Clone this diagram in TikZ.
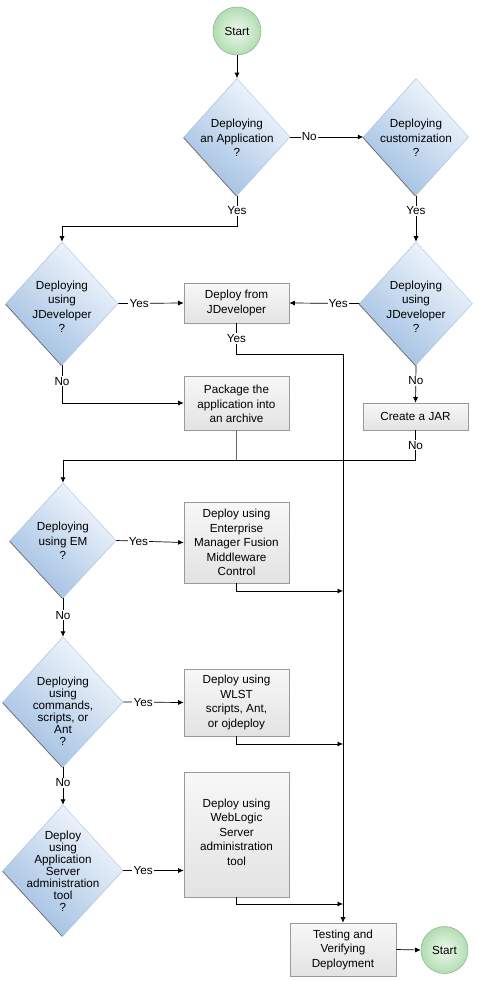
\documentclass[tikz,border=0pt]{standalone}
\usepackage{fontspec}
\setmainfont{Liberation Sans}
\usetikzlibrary{shapes.geometric,shadows,arrows.meta}
\definecolor{dblue}{HTML}{A0BFE2}
\definecolor{dlight}{HTML}{F4F8FD}
\definecolor{dedge}{HTML}{B4CBE8}
\definecolor{bedge}{HTML}{9A9A9A}
\definecolor{gfill}{HTML}{B2DDB2}
\definecolor{glight}{HTML}{EEF8EE}
\definecolor{gedge}{HTML}{8FB88F}
\tikzset{
  txt/.style={font=\fontsize{11.7}{14.5}\selectfont, align=center, inner sep=0pt},
  tighttxt/.style={font=\fontsize{11.7}{12}\selectfont, align=center, inner sep=0pt},
  decision/.style={diamond, draw=dedge, line width=0.5pt, inner sep=0pt,
    top color=dlight, bottom color=dblue, shading angle=-40,
    drop shadow={shadow xshift=-0.9pt, shadow yshift=-0.9pt, fill=black!70, opacity=0.8}},
  stepbox/.style={rectangle, draw=bedge, line width=0.6pt, inner sep=0pt,
    top color=white!97!black, bottom color=white!89!black,
    drop shadow={shadow xshift=0.6pt, shadow yshift=-0.8pt, fill=black!55, opacity=0.8}},
  term/.style={circle, draw=gedge, line width=0.6pt, minimum size=48pt, inner sep=0pt,
    inner color=glight, outer color=gfill},
  conn/.style={draw=black, line width=0.7pt},
  arr/.style={conn, -{Latex[length=5.5pt,width=5pt]}},
  lab/.style={fill=white, inner sep=1.2pt, font=\fontsize{11.7}{14}\selectfont},
}
\begin{document}
\begin{tikzpicture}[x=1pt,y=-1pt]
\useasboundingbox (0,0) rectangle (477,981);
% terminals
\node[term] (start) at (237,31) {};
\node[txt] at (start) {Start};
\node[term, minimum size=47pt] (end) at (444.5,950) {};
\node[txt] at (end) {Start};
% decisions
\node[decision, minimum width=106pt, minimum height=117pt] (d1) at (237,137) {};
\node[txt] at (237,138) {Deploying\\an Application\\?};
\node[decision, minimum width=105pt, minimum height=117pt] (d2) at (416,137) {};
\node[txt] at (416,138) {Deploying\\customization\\?};
\node[decision, minimum width=112pt, minimum height=123pt] (d3) at (62,303.5) {};
\node[txt] at (62,307) {Deploying\\using\\JDeveloper\\?};
\node[decision, minimum width=113pt, minimum height=123pt] (d4) at (416,303.5) {};
\node[txt] at (416,307) {Deploying\\using\\JDeveloper\\?};
\node[decision, minimum width=106pt, minimum height=115pt] (d5) at (63,540.5) {};
\node[txt] at (63,541) {Deploying\\using EM\\?};
\node[decision, minimum width=120pt, minimum height=130pt] (d6) at (63,702) {};
\node[tighttxt] at (63,711) {Deploying\\using\\commands,\\scripts, or\\Ant\\?};
\node[decision, minimum width=120pt, minimum height=131pt] (d7) at (63,870.5) {};
\node[tighttxt] at (63,871) {Deploy\\using\\Application\\Server\\administration\\tool\\?};
% boxes
\node[stepbox, minimum width=105pt, minimum height=40pt] (b1) at (236.5,303) {};
\node[txt] at (236.5,303) {Deploy from\\JDeveloper};
\node[stepbox, minimum width=105pt, minimum height=54pt] (b2) at (236.5,403) {};
\node[txt] at (236.5,404) {Package the\\application into\\an archive};
\node[stepbox, minimum width=105pt, minimum height=27pt] (jar) at (415.5,416.5) {};
\node[txt] at (415.5,416.5) {Create a JAR};
\node[stepbox, minimum width=105pt, minimum height=81pt] (b3) at (236.5,542.5) {};
\node[txt] at (236.5,542.5) {Deploy using\\Enterprise\\Manager Fusion\\Middleware\\Control};
\node[stepbox, minimum width=105pt, minimum height=67pt] (b4) at (236.5,702.5) {};
\node[txt] at (236.5,702.5) {Deploy using\\WLST\\scripts, Ant,\\or ojdeploy};
\node[stepbox, minimum width=105pt, minimum height=125pt] (b5) at (236.5,834.5) {};
\node[txt] at (236.5,832) {Deploy using\\WebLogic\\Server\\administration\\tool};
\node[stepbox, minimum width=106pt, minimum height=53pt] (test) at (343,949.5) {};
\node[txt] at (343,949.5) {Testing and\\Verifying\\Deployment};
% connectors
\draw[arr] (start) -- (d1.north);
\draw[arr] (d1.east) -- node[lab, pos=0.26]{No} (d2.west);
\draw[arr] (d1.south) -- node[lab]{Yes} (d1.south |- 0,226) -| (d3.north);
\draw[arr] (d2.south) -- node[lab, pos=0.33]{Yes} (d4.north);
\draw[arr] (d3.east) -- node[lab, pos=0.32]{Yes} (b1.west);
\draw[arr] (d4.west) -- node[lab, pos=0.3]{Yes} (b1.east);
\draw[arr] (b1.south) -- node[lab]{Yes} (b1.south |- 0,354) -| (test.north);
\draw[arr] (d3.south) |- node[lab, pos=0.21]{No} (b2.west);
\draw[arr] (d4.south) -- node[lab, pos=0.42]{No} (jar.north);
\draw[arr] (jar.south) -- node[lab]{No} (jar.south |- 0,460) -| (d5.north);
\draw[conn, draw=black!60] (b2.south) -- (b2.south |- 0,460);
\draw[arr] (d5.east) -- node[lab, pos=0.33]{Yes} (b3.west);
\draw[arr] (b3.south) |- (test.north |- 0,591);
\draw[arr] (d5.south) -- node[lab, pos=0.44]{No} (d6.north);
\draw[arr] (d6.east) -- node[lab, pos=0.33]{Yes} (b4.west);
\draw[arr] (b4.south) |- (test.north |- 0,744);
\draw[arr] (d6.south) -- node[lab, pos=0.42]{No} (d7.north);
\draw[arr] (d7.east) -- node[lab, pos=0.33]{Yes} (d7.east -| b5.west);
\draw[arr] (b5.south) |- (test.north |- 0,904);
\draw[arr] (test.east) -- (end.west);
\end{tikzpicture}
\end{document}
